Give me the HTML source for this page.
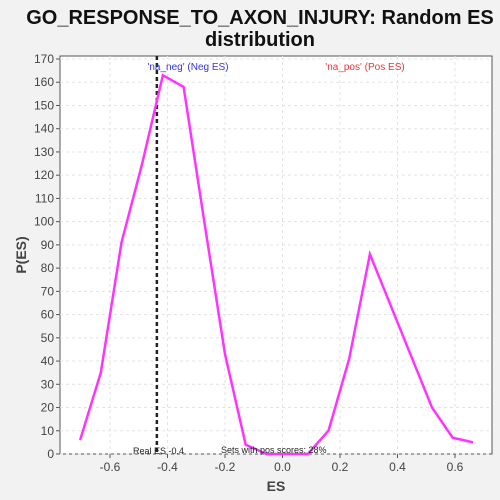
<!DOCTYPE html>
<html><head><meta charset="utf-8"><style>
body{margin:0;background:#f2f2f2;}
svg{display:block;font-family:"Liberation Sans",sans-serif;}
</style></head><body>
<svg width="500" height="500">
<text x="260" y="24" text-anchor="middle" font-size="20" font-weight="bold" fill="#111">GO_RESPONSE_TO_AXON_INJURY: Random ES</text>
<text x="260" y="46" text-anchor="middle" font-size="20" font-weight="bold" fill="#111">distribution</text>
<rect x="60" y="56" width="432" height="398" fill="#fff" stroke="#555"/>
<g id="grid"></g>
<g id="axes"></g>
<line id="real" stroke="#222" stroke-width="2.5" stroke-dasharray="4,3"/>
<polyline id="curve" fill="none" stroke="#ff33ff" stroke-width="2.5"/>
<text x="188" y="70" text-anchor="middle" font-size="10" fill="#3333ee">'na_neg' (Neg ES)</text>
<text x="365" y="70" text-anchor="middle" font-size="10" fill="#ee3333">'na_pos' (Pos ES)</text>
<text x="133" y="454" font-size="9" fill="#222">Real ES -0.4</text>
<text x="221" y="453" font-size="9" fill="#222">Sets with pos scores: 28%</text>
<text x="276" y="491" text-anchor="middle" font-size="14" font-weight="bold" fill="#444">ES</text>
<text x="26" y="255" text-anchor="middle" font-size="14" font-weight="bold" fill="#444" transform="rotate(-90 26 255)">P(ES)</text>
</svg>
<script>
const esValues=[-0.704,-0.632,-0.560,-0.488,-0.416,-0.344,-0.272,-0.200,-0.128,-0.056,0.016,0.088,0.160,0.232,0.304,0.376,0.448,0.520,0.592,0.663];
const pValues=[6,35,91,125,163,158,100,43,4,0,0,0,10,41,86,64,42,20,7,5];
const xTicks=[-0.6,-0.4,-0.2,0.0,0.2,0.4,0.6];
const yTicks=[0,10,20,30,40,50,60,70,80,90,100,110,120,130,140,150,160,170];
const realES=[-0.437];
const X=v=>282.5+v*287.5, Y=v=>454-v*395/170;
const ns="http://www.w3.org/2000/svg";
const grid=document.getElementById('grid'),axes=document.getElementById('axes');
function mk(tag,attrs,parent){const e=document.createElementNS(ns,tag);for(const k in attrs)e.setAttribute(k,attrs[k]);parent.appendChild(e);return e;}
xTicks.forEach(t=>{
 const gl=mk('line',{x1:X(t),x2:X(t),y1:56,y2:454,stroke:'#e3e3e3','stroke-dasharray':'3,3'},grid);
 
 
 const tk=mk('line',{x1:X(t),x2:X(t),y1:454,y2:458,stroke:'#555'},axes);
 
 
 const tx=mk('text',{x:X(t),y:471,'text-anchor':'middle','font-size':12,fill:'#444'},axes);
 tx.textContent=t.toFixed(1);
 
 
});
yTicks.forEach(t=>{
 const gl=mk('line',{x1:60,x2:492,y1:Y(t),y2:Y(t),stroke:'#e3e3e3','stroke-dasharray':'3,3'},grid);
 
 
 const tk=mk('line',{x1:56,x2:60,y1:Y(t),y2:Y(t),stroke:'#555'},axes);
 
 
 const tx=mk('text',{x:54,y:Y(t)+4,'text-anchor':'end','font-size':12,fill:'#444'},axes);
 tx.textContent=t;
 
 
});
const r=document.getElementById('real');
r.setAttribute('x1',X(realES[0]));r.setAttribute('x2',X(realES[0]));r.setAttribute('y1',56);r.setAttribute('y2',454);
document.getElementById('curve').setAttribute('points',esValues.map((v,i)=>X(v)+','+Y(pValues[i])).join(' '));
</script>
</body></html>
